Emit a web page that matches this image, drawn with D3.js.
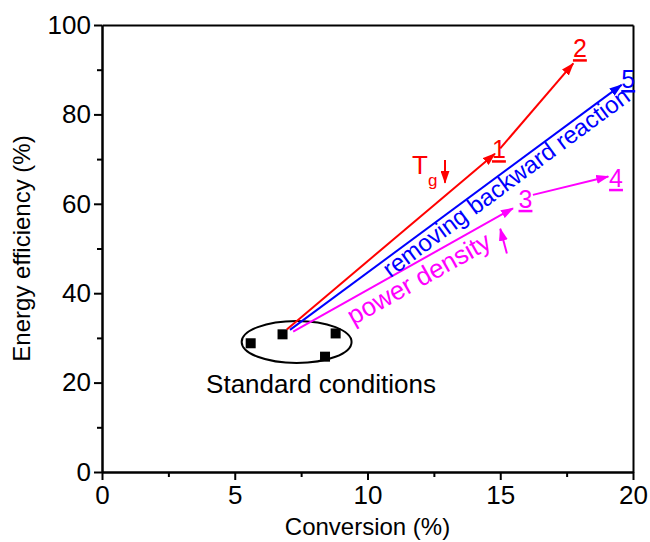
<!DOCTYPE html>
<html>
<head>
<meta charset="utf-8">
<script src="https://cdn.jsdelivr.net/npm/d3@7"></script>
<style>
  html, body { margin: 0; padding: 0; background: #fff; }
  svg text { font-family: "Liberation Sans", Arial, sans-serif; }
</style>
</head>
<body>
<svg id="chart" width="650" height="542"></svg>
<script>
// ---- data ----
const xMajorTicks = [0, 5, 10, 15, 20];
const xMinorTicks = [2.5, 7.5, 12.5, 17.5];
const yMajorTicks = [0, 20, 40, 60, 80, 100];
const yMinorTicks = [10, 30, 50, 70, 90];

// standard-condition points
const stdConversion = [5.6, 6.8, 8.8, 8.4];
const stdEfficiency = [28.8, 30.8, 31.0, 25.8];

// arrows
const arrowNames = ["1", "2", "3", "4", "5"];
const arrowStartX = [6.96, 15.0, 7.2, 16.23, 7.08];
const arrowStartY = [31.9, 72.4, 31.4, 62.0, 31.8];
const arrowEndX   = [14.8, 17.75, 15.48, 19.07, 19.57];
const arrowEndY   = [71.2, 91.4, 59.0, 66.1, 86.6];
const arrowColors = ["#ff0000", "#ff0000", "#ff00ff", "#ff00ff", "#0000ff"];

// number labels (centre x / baseline y, data units)
const labelX = [14.95, 18.0, 15.95, 19.36, 19.82];
const labelY = [70.2, 92.8, 59.1, 63.8, 85.9];

// std ellipse (data units)
const ellipseCX = [7.33], ellipseCY = [29.1], ellipseRX = [2.07], ellipseRY = [4.7];

// ---- chart ----
const svg = d3.select("#chart");
const x = d3.scaleLinear().domain([0, 20]).range([102, 633]);
const y = d3.scaleLinear().domain([0, 100]).range([472, 25]);
const font = '"Liberation Sans", Arial, sans-serif';

const defs = svg.append("defs");
["#ff0000", "#0000ff", "#ff00ff"].forEach((c, i) => {
  defs.append("marker")
    .attr("id", "ah" + i)
    .attr("viewBox", "0 0 13 9")
    .attr("refX", 12).attr("refY", 4.5)
    .attr("markerWidth", 13).attr("markerHeight", 9)
    .attr("markerUnits", "userSpaceOnUse")
    .attr("orient", "auto")
    .append("path").attr("d", "M0,0 L13,4.5 L0,9 Z").attr("fill", c);
});
const markerFor = c => c === "#ff0000" ? "url(#ah0)" : c === "#0000ff" ? "url(#ah1)" : "url(#ah2)";

function styleAxis(g) {
  g.selectAll("path.domain").attr("stroke", "#000").attr("stroke-width", 2);
  g.selectAll(".tick line").attr("stroke", "#000").attr("stroke-width", 2);
  g.selectAll(".tick text").attr("font-family", font).attr("font-size", 26).attr("fill", "#000");
}
svg.append("g").attr("transform", `translate(0,${y(0)})`)
  .call(d3.axisBottom(x).tickValues(xMajorTicks).tickFormat(d3.format("d")).tickSize(8).tickSizeOuter(0).tickPadding(6))
  .call(styleAxis);
svg.append("g").attr("transform", `translate(0,${y(0)})`)
  .call(d3.axisBottom(x).tickValues(xMinorTicks).tickFormat("").tickSize(5).tickSizeOuter(0))
  .call(styleAxis);
svg.append("g").attr("transform", `translate(${x(0)},0)`)
  .call(d3.axisLeft(y).tickValues(yMajorTicks).tickFormat(d3.format("d")).tickSize(8).tickSizeOuter(0).tickPadding(3))
  .call(styleAxis);
svg.append("g").attr("transform", `translate(${x(0)},0)`)
  .call(d3.axisLeft(y).tickValues(yMinorTicks).tickFormat("").tickSize(5).tickSizeOuter(0))
  .call(styleAxis);
svg.append("g").attr("transform", `translate(0,${y(100)})`)
  .call(d3.axisTop(x).tickValues([]).tickSizeOuter(0)).call(styleAxis);
svg.append("g").attr("transform", `translate(${x(20)},0)`)
  .call(d3.axisRight(y).tickValues([]).tickSizeOuter(0)).call(styleAxis);

// axis titles
svg.append("text").attr("x", (x(0) + x(20)) / 2).attr("y", 535)
  .attr("text-anchor", "middle").attr("font-size", 24).text("Conversion (%)");
svg.append("text").attr("transform", `translate(30,${(y(0) + y(100)) / 2}) rotate(-90)`)
  .attr("text-anchor", "middle").attr("font-size", 24).text("Energy efficiency (%)");

// ellipse
svg.append("ellipse")
  .attr("cx", x(ellipseCX[0])).attr("cy", y(ellipseCY[0]))
  .attr("rx", x(ellipseCX[0] + ellipseRX[0]) - x(ellipseCX[0]))
  .attr("ry", y(ellipseCY[0]) - y(ellipseCY[0] + ellipseRY[0]))
  .attr("fill", "none").attr("stroke", "#000").attr("stroke-width", 2);

// squares
svg.selectAll("rect.pt").data(stdConversion.map((v, i) => [v, stdEfficiency[i]]))
  .enter().append("rect").attr("class", "pt")
  .attr("x", d => x(d[0]) - 5).attr("y", d => y(d[1]) - 5)
  .attr("width", 10).attr("height", 10).attr("fill", "#000");

svg.append("text").attr("x", 321).attr("y", 393)
  .attr("text-anchor", "middle").attr("font-size", 26).text("Standard conditions");

// arrows
arrowNames.forEach((n, i) => {
  svg.append("line")
    .attr("x1", x(arrowStartX[i])).attr("y1", y(arrowStartY[i]))
    .attr("x2", x(arrowEndX[i])).attr("y2", y(arrowEndY[i]))
    .attr("stroke", arrowColors[i]).attr("stroke-width", 2)
    .attr("marker-end", markerFor(arrowColors[i]));
  svg.append("text").attr("x", x(labelX[i])).attr("y", y(labelY[i]))
    .attr("text-anchor", "middle").attr("font-size", 25)
    .attr("fill", arrowColors[i]).attr("text-decoration", "underline").text(n);
});

// text along lines
function alongText(i, t, off, txt, color, size) {
  const x0 = x(arrowStartX[i]), y0 = y(arrowStartY[i]);
  const x1 = x(arrowEndX[i]), y1 = y(arrowEndY[i]);
  const ang = Math.atan2(y1 - y0, x1 - x0) * 180 / Math.PI;
  const px = x0 + (x1 - x0) * t, py = y0 + (y1 - y0) * t;
  svg.append("text").attr("transform", `translate(${px},${py}) rotate(${ang})`)
    .attr("y", off).attr("font-size", size).attr("fill", color).text(txt);
}
alongText(4, 0.27, 18, "removing backward reaction", "#0000ff", 24);
alongText(2, 0.22, 24, "power density", "#ff00ff", 26);

// T_g label + arrow
const tg = svg.append("text").attr("x", 412).attr("y", 174).attr("fill", "#ff0000").attr("font-size", 26);
tg.append("tspan").text("T");
tg.append("tspan").attr("font-size", 17).attr("dy", 12).text("g");
svg.append("line")
  .attr("x1", x(12.92)).attr("y1", y(69.8)).attr("x2", x(12.92)).attr("y2", y(64.7))
  .attr("stroke", "#ff0000").attr("stroke-width", 2).attr("marker-end", "url(#ah0)");

// power density up arrow
svg.append("line")
  .attr("x1", x(15.25)).attr("y1", y(48.9)).attr("x2", x(15.0)).attr("y2", y(54.4))
  .attr("stroke", "#ff00ff").attr("stroke-width", 2).attr("marker-end", "url(#ah2)");
</script>
</body>
</html>
